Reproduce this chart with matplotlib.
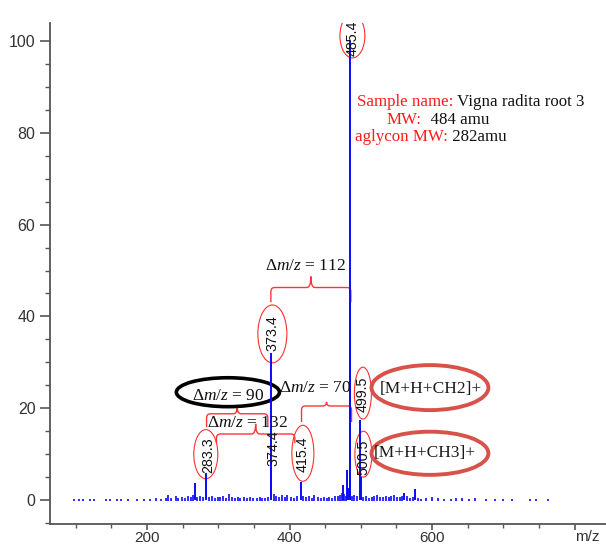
import matplotlib
matplotlib.use('Agg')
import matplotlib.pyplot as plt
from matplotlib.patches import Ellipse, PathPatch
from matplotlib.path import Path
from matplotlib.transforms import offset_copy, blended_transform_factory
from matplotlib.ticker import MultipleLocator, FixedLocator, FuncFormatter

plt.rcParams['mathtext.fontset'] = 'custom'
plt.rcParams['mathtext.rm'] = 'Liberation Serif'
plt.rcParams['mathtext.it'] = 'Liberation Serif:italic'

# ---------------- data ----------------
peak_mz = [267.2, 283.3, 373.4, 374.4, 415.4, 475.5, 480.4, 482.4, 484.4, 485.4, 499.5, 500.5, 561.0, 576.2]
peak_int = [3.7, 6.0, 32.0, 7.0, 4.0, 3.3, 6.5, 2.6, 43.0, 100.0, 17.5, 5.0, 1.6, 2.4]

noise_mz = [98, 104, 110, 120, 126, 142, 148, 158, 164, 174, 186, 196, 204, 212, 220, 226, 229, 234,
            240, 244, 249, 254, 258, 262, 265, 270, 274, 278, 287, 291, 295, 299, 303, 307, 311, 315,
            319, 323, 327, 331, 336, 340, 345, 349, 354, 358, 362, 366, 370, 378, 381, 385, 389, 393,
            397, 402, 406, 411, 419, 423, 427, 431, 435, 440, 444, 448, 452, 456, 460, 464, 468, 471,
            474, 477, 479, 488, 491, 494, 503, 507, 511, 515, 519, 523, 527, 531, 535, 539, 543, 547,
            551, 555, 558, 565, 569, 573, 580, 585, 592, 600, 608, 617, 626, 634, 642, 652, 660, 676,
            688, 700, 712, 738, 746, 762]
noise_int = [0.3, 0.2, 0.3, 0.2, 0.3, 0.2, 0.3, 0.2, 0.3, 0.2, 0.2, 0.3, 0.3, 0.4, 0.3, 0.5, 1.1, 0.4,
             1.0, 0.5, 0.6, 0.4, 0.8, 0.7, 1.2, 0.6, 0.9, 0.7, 0.6, 0.8, 0.5, 0.7, 0.6, 0.9, 0.5, 1.3,
             0.6, 0.5, 0.7, 0.4, 0.6, 0.5, 0.7, 0.4, 0.5, 0.6, 0.4, 0.5, 0.6, 1.4, 0.8, 0.7, 1.2, 0.6,
             1.1, 0.7, 0.5, 0.8, 0.9, 0.6, 1.0, 0.5, 1.2, 0.6, 0.4, 0.7, 0.5, 0.6, 0.5, 0.8, 0.9, 1.1,
             1.6, 1.3, 1.0, 0.9, 1.2, 0.8, 0.6, 1.0, 0.5, 0.7, 0.9, 1.1, 0.6, 0.7, 1.0, 0.6, 0.8, 1.1,
             0.6, 0.7, 1.0, 0.9, 0.5, 0.7, 0.4, 0.3, 0.5, 0.6, 0.4, 0.3, 0.3, 0.5, 0.4, 0.3, 0.4, 0.3,
             0.3, 0.3, 0.2, 0.3, 0.3, 0.3]

# peak labels: m/z, label centre height, circled?
label_mz = [485.4, 373.4, 283.3, 374.4, 415.4, 499.5, 500.5]
label_text = ['485.4', '373.4', '283.3', '374.4', '415.4', '499.5', '500.5']
label_y = [100.5, 36.4, 9.8, 11.3, 10.0, 23.1, 9.3]
label_circled = [True, True, True, False, True, True, True]
ell_center = [(488.2, 101.1), (375.9, 36.2), (282.5, 10.0), None, (418.7, 10.2), (502.9, 23.3), (503.6, 10.0)]
ell_size = [(35, 9.6), (40.7, 12.6), (33.7, 10.7), None, (30.9, 12.2), (23.9, 11.3), (23.9, 10.0)]

x_major = [200, 400, 600, 800]
x_labels = {200: '200', 400: '400', 600: '600', 800: ''}

# ---------------- figure ----------------
fig = plt.figure(figsize=(6.06, 5.47), dpi=100)
ax = fig.add_axes([50 / 606, 23 / 547, 556 / 606, 501 / 547])
ax.set_xlim(63.9, 844)
ax.set_ylim(-5.2, 103.9)

blue = '#0a0aff'
ax.vlines(noise_mz, -0.25, noise_int, color=blue, lw=1.2)
ax.vlines(peak_mz, 0, peak_int, color=blue, lw=1.4)

for s in ['top', 'right']:
    ax.spines[s].set_visible(False)
for s in ['left', 'bottom']:
    ax.spines[s].set_color('#555555')
    ax.spines[s].set_linewidth(1.3)

ax.xaxis.set_major_locator(FixedLocator(x_major))
ax.xaxis.set_minor_locator(MultipleLocator(50))
ax.xaxis.set_major_formatter(FuncFormatter(lambda v, p: x_labels.get(int(round(v)), '')))
ax.yaxis.set_major_locator(MultipleLocator(20))
ax.yaxis.set_minor_locator(MultipleLocator(5))
ax.tick_params(axis='both', which='major', colors='#555555', labelcolor='#333333', width=1.2)
ax.tick_params(axis='both', which='minor', colors='#555555', width=1.0)
ax.tick_params(axis='y', which='major', length=7, pad=3.5)
ax.tick_params(axis='y', which='minor', length=3.6)
ax.tick_params(axis='x', which='major', length=4.5, pad=0.3)
ax.tick_params(axis='x', which='minor', length=3.0)
for lab in ax.get_yticklabels():
    lab.set_fontfamily('Liberation Sans')
    lab.set_fontsize(11.5)
for lab in ax.get_xticklabels():
    lab.set_fontfamily('Liberation Sans')
    lab.set_fontsize(11)

trans_xl = blended_transform_factory(ax.transData, ax.transAxes)
ax.text(818, -0.026, 'm/z', transform=trans_xl, ha='center', va='center',
        fontsize=11, family='Liberation Sans', color='#333333')

# ---------------- peak labels ----------------
red_thin = '#ff3030'
for mz, t, yc, circ, ec, es in zip(label_mz, label_text, label_y, label_circled, ell_center, ell_size):
    ax.text(mz + 2.5, yc, t, rotation=90, ha='center', va='center', fontsize=10.3,
            family='Liberation Sans', color='#111111')
    if circ:
        ax.add_patch(Ellipse(ec, es[0], es[1], fill=False, ec=red_thin, lw=0.8))


# ---------------- braces ----------------
def brace(x0, x1, yb, yl, yt, color='#ff3535', lw=1.0):
    xt = (x0 + x1) / 2
    rx = 5.5
    ry = 0.9
    verts = [(x0, yb), (x0, yl - ry), (x0, yl), (x0 + rx, yl), (xt - rx, yl),
             (xt, yl), (xt, yt), (xt, yl), (xt + rx, yl), (x1 - rx, yl),
             (x1, yl), (x1, yl - ry), (x1, yb)]
    codes = [Path.MOVETO, Path.LINETO, Path.CURVE3, Path.CURVE3, Path.LINETO,
             Path.CURVE3, Path.CURVE3, Path.CURVE3, Path.CURVE3, Path.LINETO,
             Path.CURVE3, Path.CURVE3, Path.LINETO]
    ax.add_patch(PathPatch(Path(verts, codes), fill=False, ec=color, lw=lw))


brace(373.8, 486.0, 43.1, 46.3, 48.7)
brace(416.8, 487.0, 17.0, 20.5, 21.4)
brace(283.6, 369.5, 15.9, 18.8, 20.3)
brace(297.5, 407.4, 12.4, 14.4, 16.6)

dfont = dict(fontsize=12.5, family='Liberation Serif', color='#111111', ha='center', va='center')
ax.text(421.7, 51.0, r'Δ$m/z$ = 112', **dfont)
ax.text(435.9, 24.4, r'Δ$m/z$ = 70', **dfont)
ax.text(313.7, 22.7, r'Δ$m/z$ = 90', **dfont)
ax.text(341.5, 16.9, r'Δ$m/z$ = 132', **dfont)
ax.add_patch(Ellipse((313.5, 23.5), 144.6, 6.3, fill=False, ec='black', lw=2.6))

# ---------------- adduct annotations ----------------
big_red = '#d9524a'
ax.add_patch(Ellipse((597, 24.5), 164, 9.8, fill=False, ec=big_red, lw=2.8))
ax.add_patch(Ellipse((597, 10.2), 164, 9.4, fill=False, ec=big_red, lw=2.8))
ax.text(597.6, 24.3, '[M+H+CH2]+', fontsize=12.5, family='Liberation Serif', color='#1a1a1a',
        ha='center', va='center')
ax.text(589.2, 10.2, '[M+H+CH3]+', fontsize=12.5, family='Liberation Serif', color='#1a1a1a',
        ha='center', va='center')

# ---------------- sample info ----------------
info_red = '#ff1a1a'
fig.canvas.draw()
renderer = fig.canvas.get_renderer()


def two_color(x, y, s_red, s_black, size=12.2):
    t = ax.text(x, y, s_red, color=info_red, fontsize=size, family='Liberation Serif',
                ha='left', va='baseline')
    w = t.get_window_extent(renderer=renderer).width
    tr = offset_copy(ax.transData, fig=fig, x=w, y=0, units='dots')
    ax.text(x, y, s_black, color='#111111', fontsize=size, family='Liberation Serif',
            ha='left', va='baseline', transform=tr)


two_color(494.0, 85.8, 'Sample name:', ' Vigna radita root 3')
two_color(536.1, 81.9, 'MW:', '  484 amu')
two_color(491.6, 78.2, 'aglycon MW:', ' 282amu')

fig.savefig('out.png', dpi=100)
